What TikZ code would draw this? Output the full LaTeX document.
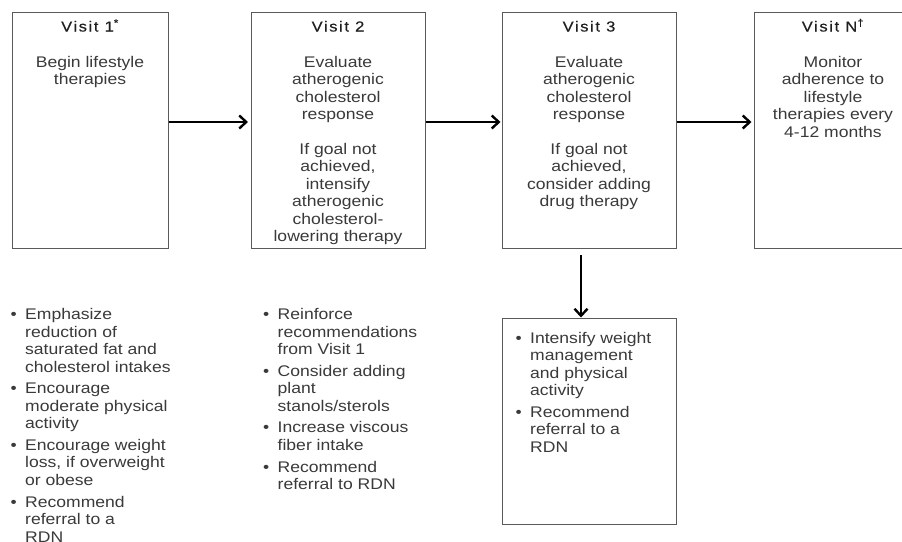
\documentclass[tikz,border=0pt]{standalone}
\usepackage{fontspec}
\usetikzlibrary{arrows.meta}
\setmainfont{Liberation Sans}
\newfontfamily\bodyfont[FakeStretch=1.14]{Liberation Sans}
\newfontfamily\titlefont[FakeStretch=1.14,LetterSpace=11,FakeBold=0.4]{Liberation Sans}
\definecolor{txt}{HTML}{3A3A3A}
\definecolor{frame}{HTML}{5A5A5A}
\newcommand\lbul{\makebox[14.5pt][l]{\textbullet}}
\begin{document}
\begin{tikzpicture}[x=1pt,y=-1pt,
  box/.style={draw=frame,line width=1pt,inner sep=0pt,rectangle},
  ttl/.style={font=\titlefont\fontsize{14.5}{17}\selectfont,text=black!88,inner sep=0pt,anchor=base},
  body/.style={font=\bodyfont\fontsize{15.4}{17.4}\selectfont,text=txt,inner sep=0pt,anchor=base},
  lst/.style={font=\bodyfont\fontsize{15.4}{17.5}\selectfont,text=txt,inner sep=0pt,anchor=base west},
  arr/.style={-{Straight Barb[length=7pt,width=13pt,line width=2.4pt]},line width=1.6pt,draw=black}]
\useasboundingbox (0,0) rectangle (902,541);
\clip (0,0) rectangle (902,541);
\fill[white] (0,0) rectangle (902,541);
% boxes
\node[box,minimum width=156pt,minimum height=236pt] (v1) at (90,130) {};
\node[box,minimum width=174pt,minimum height=236pt] (v2) at (338,130) {};
\node[box,minimum width=174pt,minimum height=236pt] (v3) at (589,130) {};
\node[box,minimum width=158pt,minimum height=236pt] (v4) at (833,130) {};
\node[box,minimum width=174pt,minimum height=206pt] (v5) at (589,421) {};
% titles
\node[ttl] (t1) at (90,31.5) {Visit 1\textsuperscript{*}};
\node[ttl] (t2) at (338,31.5) {Visit 2};
\node[ttl] (t3) at (589,31.5) {Visit 3};
\node[ttl] (t4) at (833,31.5) {Visit N\textsuperscript{\dag}};
% box texts
\node[body] (b1) at (90,67.5) {\begin{tabular}[t]{@{}c@{}}Begin lifestyle\\therapies\end{tabular}};
\node[body] (b2) at (338,67.5) {\begin{tabular}[t]{@{}c@{}}Evaluate\\atherogenic\\cholesterol\\response\\[17.4pt]If goal not\\achieved,\\intensify\\atherogenic\\cholesterol-\\lowering therapy\end{tabular}};
\node[body] (b3) at (589,67.5) {\begin{tabular}[t]{@{}c@{}}Evaluate\\atherogenic\\cholesterol\\response\\[17.4pt]If goal not\\achieved,\\consider adding\\drug therapy\end{tabular}};
\node[body] (b4) at (833,67.5) {\begin{tabular}[t]{@{}c@{}}Monitor\\adherence to\\lifestyle\\therapies every\\4-12 months\end{tabular}};
% lists
\node[lst] (l1) at (10.5,319.5) {\begin{tabular}[t]{@{}l@{}l@{}}\lbul & Emphasize\\ & reduction of\\ & saturated fat and\\ & cholesterol intakes\\[4.2pt]
\lbul & Encourage\\ & moderate physical\\ & activity\\[4.2pt]
\lbul & Encourage weight\\ & loss, if overweight\\ & or obese\\[4.2pt]
\lbul & Recommend\\ & referral to a\\ & RDN\end{tabular}};
\node[lst] (l2) at (263,319.5) {\begin{tabular}[t]{@{}l@{}l@{}}\lbul & Reinforce\\ & recommendations\\ & from Visit 1\\[4.2pt]
\lbul & Consider adding\\ & plant\\ & stanols/sterols\\[4.2pt]
\lbul & Increase viscous\\ & fiber intake\\[4.2pt]
\lbul & Recommend\\ & referral to RDN\end{tabular}};
\node[lst] (l5) at (515.5,343) {\begin{tabular}[t]{@{}l@{}l@{}}\lbul & Intensify weight\\ & management\\ & and physical\\ & activity\\[4.2pt]
\lbul & Recommend\\ & referral to a\\ & RDN\end{tabular}};
% arrows
\draw[arr] ([yshift=8pt]v1.east) -- ([yshift=8pt,xshift=-2.5pt]v2.west);
\draw[arr] ([yshift=8pt]v2.east) -- ([yshift=8pt,xshift=-1pt]v3.west);
\draw[arr] ([yshift=8pt]v3.east) -- ([yshift=8pt,xshift=-2pt]v4.west);
\coordinate (d) at (581,255);
\draw[arr] (d) -- (d |- v5.north);
\end{tikzpicture}
\end{document}
